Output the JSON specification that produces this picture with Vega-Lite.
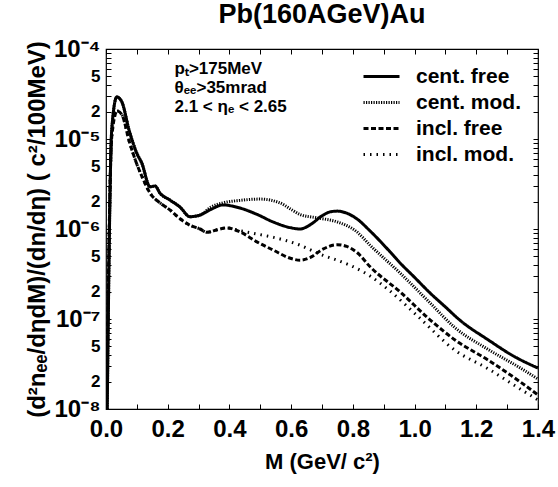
{
  "$schema": "https://vega.github.io/schema/vega-lite/v6.json",
  "width": 432,
  "height": 360,
  "autosize": "none",
  "padding": {"left": 106, "top": 49, "right": 20, "bottom": 78},
  "title": {"text": "Pb(160AGeV)Au", "fontSize": 27, "fontWeight": "bold", "font": "Liberation Sans", "anchor": "middle", "frame": "group", "offset": 8, "color": "black"},
  "config": {
    "view": {"stroke": "black", "strokeWidth": 1.2},
    "font": "Liberation Sans",
    "text": {"font": "Liberation Sans"}
  },
  "datasets": {
    "curves": [
      {"s": "cent. mod.", "m": 0.004, "v": 1e-8}, {"s": "cent. mod.", "m": 0.0185, "v": 1.26e-5}, {"s": "cent. mod.", "m": 0.035, "v": 2.93e-5}, {"s": "cent. mod.", "m": 0.051, "v": 2.6e-5}, {"s": "cent. mod.", "m": 0.075, "v": 1.25e-5}, {"s": "cent. mod.", "m": 0.0995, "v": 7.0e-6}, {"s": "cent. mod.", "m": 0.116, "v": 5.4e-6}, {"s": "cent. mod.", "m": 0.1426, "v": 2.95e-6}, {"s": "cent. mod.", "m": 0.159, "v": 3.0e-6}, {"s": "cent. mod.", "m": 0.175, "v": 2.5e-6}, {"s": "cent. mod.", "m": 0.207, "v": 2.1e-6}, {"s": "cent. mod.", "m": 0.24, "v": 1.75e-6}, {"s": "cent. mod.", "m": 0.272, "v": 1.37e-6}, {"s": "cent. mod.", "m": 0.305, "v": 1.43e-6}, {"s": "cent. mod.", "m": 0.34, "v": 1.75e-6}, {"s": "cent. mod.", "m": 0.379, "v": 1.95e-6}, {"s": "cent. mod.", "m": 0.434, "v": 2.08e-6}, {"s": "cent. mod.", "m": 0.499, "v": 2.15e-6}, {"s": "cent. mod.", "m": 0.564, "v": 1.95e-6}, {"s": "cent. mod.", "m": 0.6, "v": 1.65e-6}, {"s": "cent. mod.", "m": 0.629, "v": 1.45e-6}, {"s": "cent. mod.", "m": 0.684, "v": 1.33e-6}, {"s": "cent. mod.", "m": 0.749, "v": 1.2e-6}, {"s": "cent. mod.", "m": 0.813, "v": 9.3e-7}, {"s": "cent. mod.", "m": 0.856, "v": 6.6e-7}, {"s": "cent. mod.", "m": 0.953, "v": 3.24e-7}, {"s": "cent. mod.", "m": 1.05, "v": 1.51e-7}, {"s": "cent. mod.", "m": 1.131, "v": 8.0e-8}, {"s": "cent. mod.", "m": 1.238, "v": 4.6e-8}, {"s": "cent. mod.", "m": 1.347, "v": 2.8e-8}, {"s": "cent. mod.", "m": 1.4, "v": 2.15e-8},
      {"s": "incl. mod.", "m": 0.002, "v": 1e-8}, {"s": "incl. mod.", "m": 0.019, "v": 1.1e-5}, {"s": "incl. mod.", "m": 0.036, "v": 2.05e-5}, {"s": "incl. mod.", "m": 0.052, "v": 1.85e-5}, {"s": "incl. mod.", "m": 0.075, "v": 9.5e-6}, {"s": "incl. mod.", "m": 0.097, "v": 5.6e-6}, {"s": "incl. mod.", "m": 0.12, "v": 3.6e-6}, {"s": "incl. mod.", "m": 0.143, "v": 2.5e-6}, {"s": "incl. mod.", "m": 0.175, "v": 1.95e-6}, {"s": "incl. mod.", "m": 0.207, "v": 1.63e-6}, {"s": "incl. mod.", "m": 0.24, "v": 1.3e-6}, {"s": "incl. mod.", "m": 0.272, "v": 1.1e-6}, {"s": "incl. mod.", "m": 0.305, "v": 1.0e-6}, {"s": "incl. mod.", "m": 0.327, "v": 9.2e-7}, {"s": "incl. mod.", "m": 0.36, "v": 9.8e-7}, {"s": "incl. mod.", "m": 0.39, "v": 1.03e-6}, {"s": "incl. mod.", "m": 0.434, "v": 9.6e-7}, {"s": "incl. mod.", "m": 0.467, "v": 9.1e-7}, {"s": "incl. mod.", "m": 0.541, "v": 8.1e-7}, {"s": "incl. mod.", "m": 0.629, "v": 6.6e-7}, {"s": "incl. mod.", "m": 0.661, "v": 5.9e-7}, {"s": "incl. mod.", "m": 0.703, "v": 5.1e-7}, {"s": "incl. mod.", "m": 0.749, "v": 4.5e-7}, {"s": "incl. mod.", "m": 0.791, "v": 3.95e-7}, {"s": "incl. mod.", "m": 0.833, "v": 3.35e-7}, {"s": "incl. mod.", "m": 0.856, "v": 3.0e-7}, {"s": "incl. mod.", "m": 0.92, "v": 2.05e-7}, {"s": "incl. mod.", "m": 1.007, "v": 1.1e-7}, {"s": "incl. mod.", "m": 1.131, "v": 4.5e-8}, {"s": "incl. mod.", "m": 1.238, "v": 2.8e-8}, {"s": "incl. mod.", "m": 1.347, "v": 1.63e-8}, {"s": "incl. mod.", "m": 1.4, "v": 1.26e-8},
      {"s": "cent. free", "m": 0.004, "v": 1e-8}, {"s": "cent. free", "m": 0.0185, "v": 1.26e-5}, {"s": "cent. free", "m": 0.035, "v": 2.93e-5}, {"s": "cent. free", "m": 0.051, "v": 2.6e-5}, {"s": "cent. free", "m": 0.075, "v": 1.25e-5}, {"s": "cent. free", "m": 0.0995, "v": 7.0e-6}, {"s": "cent. free", "m": 0.116, "v": 5.4e-6}, {"s": "cent. free", "m": 0.1426, "v": 2.95e-6}, {"s": "cent. free", "m": 0.159, "v": 3.0e-6}, {"s": "cent. free", "m": 0.175, "v": 2.5e-6}, {"s": "cent. free", "m": 0.207, "v": 2.1e-6}, {"s": "cent. free", "m": 0.24, "v": 1.75e-6}, {"s": "cent. free", "m": 0.272, "v": 1.37e-6}, {"s": "cent. free", "m": 0.305, "v": 1.43e-6}, {"s": "cent. free", "m": 0.34, "v": 1.65e-6}, {"s": "cent. free", "m": 0.379, "v": 1.85e-6}, {"s": "cent. free", "m": 0.434, "v": 1.71e-6}, {"s": "cent. free", "m": 0.49, "v": 1.45e-6}, {"s": "cent. free", "m": 0.541, "v": 1.2e-6}, {"s": "cent. free", "m": 0.6, "v": 1.03e-6}, {"s": "cent. free", "m": 0.629, "v": 1.0e-6}, {"s": "cent. free", "m": 0.661, "v": 1.11e-6}, {"s": "cent. free", "m": 0.7, "v": 1.4e-6}, {"s": "cent. free", "m": 0.726, "v": 1.55e-6}, {"s": "cent. free", "m": 0.75, "v": 1.58e-6}, {"s": "cent. free", "m": 0.78, "v": 1.5e-6}, {"s": "cent. free", "m": 0.8125, "v": 1.3e-6}, {"s": "cent. free", "m": 0.856, "v": 9.5e-7}, {"s": "cent. free", "m": 0.92, "v": 5.6e-7}, {"s": "cent. free", "m": 0.953, "v": 4.2e-7}, {"s": "cent. free", "m": 1.0, "v": 2.9e-7}, {"s": "cent. free", "m": 1.05, "v": 1.95e-7}, {"s": "cent. free", "m": 1.1, "v": 1.36e-7}, {"s": "cent. free", "m": 1.147, "v": 9.7e-8}, {"s": "cent. free", "m": 1.239, "v": 5.85e-8}, {"s": "cent. free", "m": 1.325, "v": 3.8e-8}, {"s": "cent. free", "m": 1.4, "v": 2.85e-8},
      {"s": "incl. free", "m": 0.002, "v": 1e-8}, {"s": "incl. free", "m": 0.019, "v": 1.1e-5}, {"s": "incl. free", "m": 0.036, "v": 2.05e-5}, {"s": "incl. free", "m": 0.052, "v": 1.85e-5}, {"s": "incl. free", "m": 0.075, "v": 9.5e-6}, {"s": "incl. free", "m": 0.097, "v": 5.6e-6}, {"s": "incl. free", "m": 0.12, "v": 3.6e-6}, {"s": "incl. free", "m": 0.143, "v": 2.5e-6}, {"s": "incl. free", "m": 0.175, "v": 1.95e-6}, {"s": "incl. free", "m": 0.207, "v": 1.63e-6}, {"s": "incl. free", "m": 0.24, "v": 1.3e-6}, {"s": "incl. free", "m": 0.272, "v": 1.1e-6}, {"s": "incl. free", "m": 0.305, "v": 1.0e-6}, {"s": "incl. free", "m": 0.327, "v": 9.2e-7}, {"s": "incl. free", "m": 0.36, "v": 9.8e-7}, {"s": "incl. free", "m": 0.39, "v": 1.03e-6}, {"s": "incl. free", "m": 0.434, "v": 9.3e-7}, {"s": "incl. free", "m": 0.489, "v": 7.2e-7}, {"s": "incl. free", "m": 0.541, "v": 5.85e-7}, {"s": "incl. free", "m": 0.6, "v": 4.7e-7}, {"s": "incl. free", "m": 0.629, "v": 4.5e-7}, {"s": "incl. free", "m": 0.661, "v": 4.8e-7}, {"s": "incl. free", "m": 0.7, "v": 5.9e-7}, {"s": "incl. free", "m": 0.749, "v": 6.7e-7}, {"s": "incl. free", "m": 0.78, "v": 6.4e-7}, {"s": "incl. free", "m": 0.813, "v": 5.5e-7}, {"s": "incl. free", "m": 0.856, "v": 3.8e-7}, {"s": "incl. free", "m": 0.953, "v": 2.0e-7}, {"s": "incl. free", "m": 1.05, "v": 9.8e-8}, {"s": "incl. free", "m": 1.131, "v": 5.85e-8}, {"s": "incl. free", "m": 1.238, "v": 3.5e-8}, {"s": "incl. free", "m": 1.347, "v": 1.95e-8}, {"s": "incl. free", "m": 1.4, "v": 1.43e-8}
    ]
  },
  "data": {"name": "curves"},
  "layer": [
    {
      "mark": {"type": "line", "color": "black", "strokeWidth": 3, "interpolate": "monotone", "clip": true},
      "encoding": {
        "x": {"field": "m", "type": "quantitative", "scale": {"domain": [0, 1.4], "nice": false, "zero": false},
          "axis": {"orient": "bottom", "values": [0, 0.1, 0.2, 0.3, 0.4, 0.5, 0.6, 0.7, 0.8, 0.9, 1.0, 1.1, 1.2, 1.3, 1.4],
            "labelExpr": "round(datum.value*10)%2==0 ? format(datum.value,'.1f') : ''",
            "labelFontSize": 24, "labelFontWeight": "bold", "labelColor": "black", "labelFont": "Liberation Sans",
            "tickSize": -5, "tickColor": "black", "tickWidth": 1, "domain": false, "grid": false, "labelPadding": 13, "labelFlush": false, "labelOverlap": false,
            "title": "M (GeV/ c²)", "titleFontSize": 22, "titleFontWeight": "bold", "titleColor": "black", "titleFont": "Liberation Sans", "titlePadding": 10}},
        "y": {"field": "v", "type": "quantitative", "scale": {"type": "log", "domain": [1e-8, 1e-4], "nice": false},
          "axis": {"orient": "left", "values": [1e-8, 2e-8, 3e-8, 4e-8, 5e-8, 6e-8, 7e-8, 8e-8, 9e-8, 1e-7, 2e-7, 3e-7, 4e-7, 5e-7, 6e-7, 7e-7, 8e-7, 9e-7, 1e-6, 2e-6, 3e-6, 4e-6, 5e-6, 6e-6, 7e-6, 8e-6, 9e-6, 1e-5, 2e-5, 3e-5, 4e-5, 5e-5, 6e-5, 7e-5, 8e-5, 9e-5, 1e-4],
            "labelExpr": "round(datum.value/pow(10,floor(log(datum.value)/LN10+0.0001)))==1 ? (round(log(datum.value)/LN10)==-4 ? '10⁻⁴' : round(log(datum.value)/LN10)==-5 ? '10⁻⁵' : round(log(datum.value)/LN10)==-6 ? '10⁻⁶' : round(log(datum.value)/LN10)==-7 ? '10⁻⁷' : '10⁻⁸') : (round(datum.value/pow(10,floor(log(datum.value)/LN10+0.0001)))==2 || round(datum.value/pow(10,floor(log(datum.value)/LN10+0.0001)))==5) ? ''+round(datum.value/pow(10,floor(log(datum.value)/LN10+0.0001))) : ''",
            "labelFontSize": {"condition": {"test": "round(datum.value/pow(10,floor(log(datum.value)/LN10+0.0001)))==1", "value": 24}, "value": 17},
            "labelFontWeight": "bold", "labelColor": "black", "labelFont": "Liberation Sans",
            "tickSize": -5, "tickColor": "black", "tickWidth": 1, "domain": false, "grid": false, "labelPadding": 11, "labelOverlap": false, "labelFlush": false,
            "title": "(d²nₑₑ/dηdM)/(dn/dη) ( c²/100MeV)", "titleFontSize": 24, "titleFontWeight": "bold", "titleColor": "black", "titleFont": "Liberation Sans", "titlePadding": 4}},
        "strokeDash": {"field": "s", "type": "nominal",
          "scale": {"domain": ["cent. free", "cent. mod.", "incl. free", "incl. mod."], "range": [[1, 0], [1.2, 1.3], [5, 2.5], [1.5, 5]]},
          "legend": {"orient": "none", "legendX": 265, "legendY": 17, "title": null, "symbolType": "M-2,0H2", "symbolSize": 324, "symbolStrokeWidth": 3, "symbolStrokeColor": "black", "symbolFillColor": "transparent",
            "labelFontSize": 21, "labelFontWeight": "bold", "labelColor": "black", "labelFont": "Liberation Sans", "rowPadding": 4, "labelOffset": 24}}
      }
    },
    {
      "mark": {"type": "point", "opacity": 0},
      "encoding": {
        "x": {"field": "m", "type": "quantitative", "scale": {"domain": [0, 1.4], "nice": false, "zero": false},
          "axis": {"orient": "top", "values": [0, 0.1, 0.2, 0.3, 0.4, 0.5, 0.6, 0.7, 0.8, 0.9, 1.0, 1.1, 1.2, 1.3, 1.4], "labels": false, "title": null, "tickSize": -5, "tickColor": "black", "domain": false, "grid": false}},
        "y": {"field": "v", "type": "quantitative", "scale": {"type": "log", "domain": [1e-8, 1e-4], "nice": false},
          "axis": {"orient": "right", "values": [1e-8, 2e-8, 3e-8, 4e-8, 5e-8, 6e-8, 7e-8, 8e-8, 9e-8, 1e-7, 2e-7, 3e-7, 4e-7, 5e-7, 6e-7, 7e-7, 8e-7, 9e-7, 1e-6, 2e-6, 3e-6, 4e-6, 5e-6, 6e-6, 7e-6, 8e-6, 9e-6, 1e-5, 2e-5, 3e-5, 4e-5, 5e-5, 6e-5, 7e-5, 8e-5, 9e-5, 1e-4], "labels": false, "title": null, "tickSize": -5, "tickColor": "black", "domain": false, "grid": false}}
      }
    },
    {
      "data": {"values": [{}]},
      "mark": {"type": "text", "text": ["pₜ>175MeV", "θₑₑ>35mrad", "2.1 < ηₑ < 2.65"], "align": "left", "baseline": "top", "fontSize": 17, "fontWeight": "bold", "lineHeight": 19, "color": "black", "font": "Liberation Sans"},
      "encoding": {
        "x": {"datum": 0.222, "type": "quantitative", "axis": null},
        "y": {"datum": 7.4e-5, "type": "quantitative", "axis": null}
      }
    }
  ],
  "resolve": {"axis": {"x": "independent", "y": "independent"}}
}
